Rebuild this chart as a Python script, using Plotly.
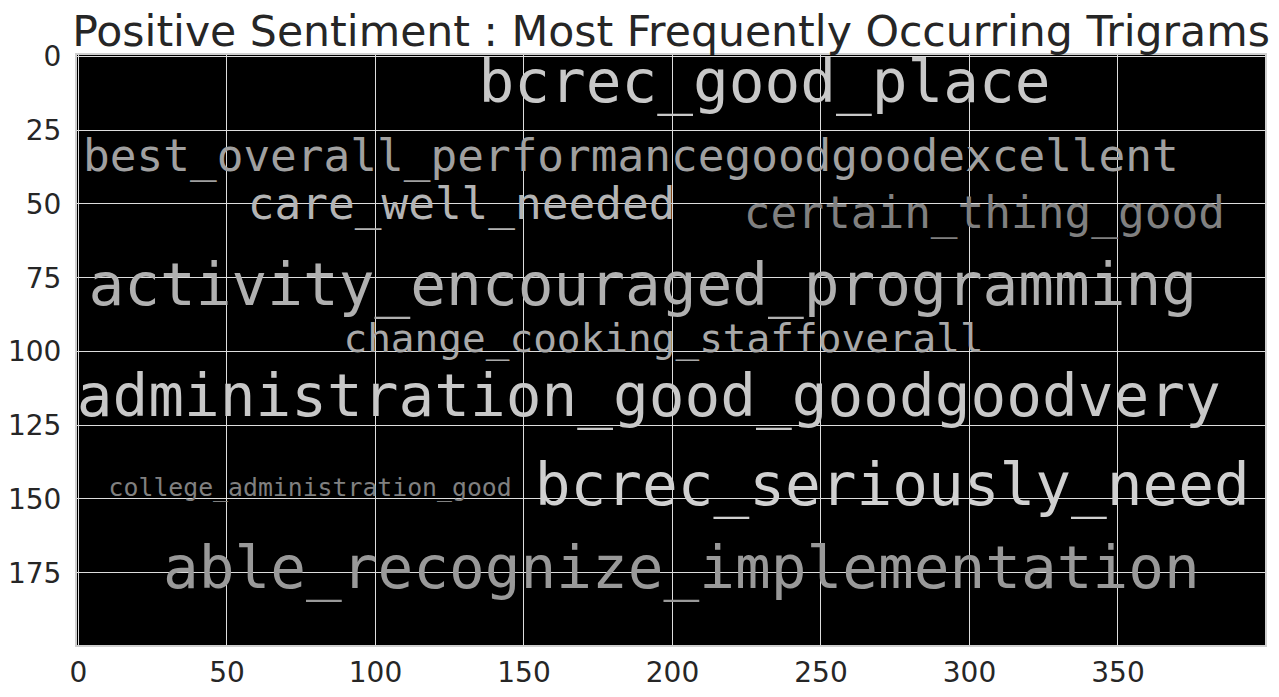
import plotly.graph_objects as go

# Word cloud words (trigrams), positions in image pixel coords (400x200 image)
words = [
    "bcrec_good_place",
    "best_overall_performancegoodgoodexcellent",
    "care_well_needed",
    "certain_thing_good",
    "activity_encouraged_programming",
    "change_cooking_staffoverall",
    "administration_good_goodgoodvery",
    "college_administration_good",
    "bcrec_seriously_need",
    "able_recognize_implementation",
]
word_x = [231, 186, 129, 305, 190, 197, 192, 78, 274, 203]
word_y = [10.5, 35, 51.5, 54.5, 79.3, 96.7, 117, 147, 147, 175]
word_size = [59.4, 44.4, 44.4, 44.4, 59.4, 39.4, 59.4, 24.8, 59.4, 59.4]
word_color = ["#c8c8c8", "#a0a0a0", "#b4b4b4", "#808080", "#b0b0b0",
              "#a8a8a8", "#c8c8c8", "#808080", "#d0d0d0", "#999999"]

x_ticks = [0, 50, 100, 150, 200, 250, 300, 350]
y_ticks = [0, 25, 50, 75, 100, 125, 150, 175]

title_text = "Positive Sentiment : Most Frequently Occurring Trigrams"

W, H = 1271, 689  # page body has an 8px margin

fig = go.Figure()
fig.add_trace(go.Scatter(
    x=word_x, y=word_y, mode="text", text=words,
    textposition="middle center",
    textfont=dict(family="DejaVu Sans Mono", size=word_size, color=word_color),
    hoverinfo="skip", showlegend=False,
))

fig.update_layout(
    width=W, height=H,
    margin=dict(l=69, r=14, t=47, b=52, autoexpand=False),
    paper_bgcolor="white",
    plot_bgcolor="black",
    title=dict(text=title_text, x=663 / W, xanchor="center", y=1 - 23 / H, yanchor="middle",
               font=dict(family="DejaVu Sans", size=42.6, color="#262626")),
    font=dict(family="DejaVu Sans", color="#262626"),
)
fig.update_xaxes(range=[-0.5, 399.5], tickvals=x_ticks, ticktext=[str(v) for v in x_ticks],
                 showgrid=True, gridcolor="#dddddd", gridwidth=1.2, zeroline=False,
                 showline=True, linecolor="#d0d0d0", linewidth=2, mirror=True, automargin=False,
                 ticks="", ticklen=0, ticklabelstandoff=1, tickfont=dict(size=28, color="#262626"))
fig.update_yaxes(range=[199.5, -0.5], tickvals=y_ticks, ticktext=[str(v) for v in y_ticks],
                 showgrid=True, gridcolor="#dddddd", gridwidth=1.2, zeroline=False,
                 showline=True, linecolor="#d0d0d0", linewidth=2, mirror=True, automargin=False,
                 ticks="", ticklen=0, ticklabelstandoff=8, tickfont=dict(size=28, color="#262626"))

fig.write_html("out.html")
